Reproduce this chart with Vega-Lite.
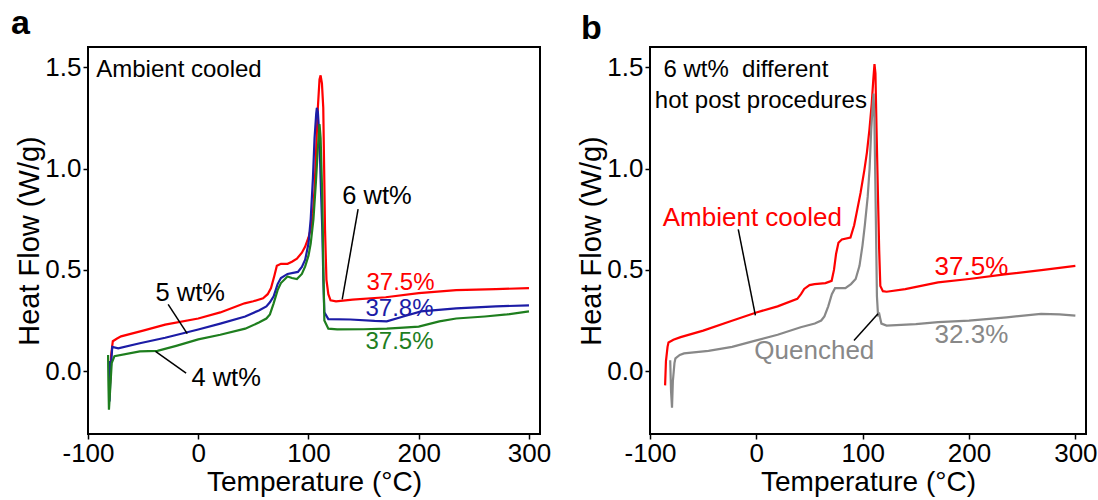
{
  "$schema": "https://vega.github.io/schema/vega-lite/v6.json",
  "background": "white",
  "padding": {"left": 10, "top": 6, "right": 5, "bottom": 0},
  "spacing": 110,
  "bounds": "flush",
  "config": {
    "view": {"stroke": "black", "strokeWidth": 2},
    "font": "Liberation Sans",
    "axis": {
      "grid": false, "domain": false, "tickColor": "black", "tickSize": 5, "tickWidth": 1.5,
      "labelColor": "black", "labelFontSize": 26, "labelFont": "Liberation Sans",
      "titleColor": "black", "titleFontSize": 29, "titleFontWeight": "normal", "titleFont": "Liberation Sans",
      "labelOverlap": false, "labelBound": false, "labelFlush": false
    },
    "title": {"font": "Liberation Sans", "fontWeight": "bold", "fontSize": 34, "color": "black", "anchor": "start", "frame": "group", "baseline": "alphabetic"}
  },
  "datasets": {
    "a": [
      {"T": -80.5, "H": -0.02, "s": "6 wt%"}, {"T": -80, "H": -0.06, "s": "6 wt%"}, {"T": -79, "H": 0.08, "s": "6 wt%"}, {"T": -77.5, "H": 0.148, "s": "6 wt%"}, {"T": -74, "H": 0.16, "s": "6 wt%"}, {"T": -70, "H": 0.172, "s": "6 wt%"}, {"T": -50, "H": 0.2, "s": "6 wt%"}, {"T": -30, "H": 0.23, "s": "6 wt%"}, {"T": 0, "H": 0.26, "s": "6 wt%"}, {"T": 20, "H": 0.29, "s": "6 wt%"}, {"T": 42, "H": 0.335, "s": "6 wt%"}, {"T": 50, "H": 0.345, "s": "6 wt%"}, {"T": 58.8, "H": 0.36, "s": "6 wt%"}, {"T": 63, "H": 0.38, "s": "6 wt%"}, {"T": 66, "H": 0.41, "s": "6 wt%"}, {"T": 69, "H": 0.47, "s": "6 wt%"}, {"T": 71.3, "H": 0.52, "s": "6 wt%"}, {"T": 75, "H": 0.53, "s": "6 wt%"}, {"T": 81, "H": 0.53, "s": "6 wt%"}, {"T": 85, "H": 0.54, "s": "6 wt%"}, {"T": 89.5, "H": 0.555, "s": "6 wt%"}, {"T": 94, "H": 0.585, "s": "6 wt%"}, {"T": 97, "H": 0.615, "s": "6 wt%"}, {"T": 100, "H": 0.66, "s": "6 wt%"}, {"T": 102, "H": 0.7, "s": "6 wt%"}, {"T": 104, "H": 0.78, "s": "6 wt%"}, {"T": 105.5, "H": 0.9, "s": "6 wt%"}, {"T": 107, "H": 1.1, "s": "6 wt%"}, {"T": 108.5, "H": 1.3, "s": "6 wt%"}, {"T": 110, "H": 1.44, "s": "6 wt%"}, {"T": 111, "H": 1.46, "s": "6 wt%"}, {"T": 112.2, "H": 1.42, "s": "6 wt%"}, {"T": 113.4, "H": 1.3, "s": "6 wt%"}, {"T": 114.2, "H": 1.0, "s": "6 wt%"}, {"T": 115, "H": 0.7, "s": "6 wt%"}, {"T": 116.3, "H": 0.45, "s": "6 wt%"}, {"T": 118, "H": 0.38, "s": "6 wt%"}, {"T": 120, "H": 0.35, "s": "6 wt%"}, {"T": 125, "H": 0.345, "s": "6 wt%"}, {"T": 140, "H": 0.353, "s": "6 wt%"}, {"T": 170, "H": 0.365, "s": "6 wt%"}, {"T": 200, "H": 0.385, "s": "6 wt%"}, {"T": 234, "H": 0.4, "s": "6 wt%"}, {"T": 270, "H": 0.405, "s": "6 wt%"}, {"T": 300, "H": 0.41, "s": "6 wt%"},
      {"T": -81, "H": 0.05, "s": "5 wt%"}, {"T": -80.5, "H": -0.15, "s": "5 wt%"}, {"T": -79.5, "H": 0.0, "s": "5 wt%"}, {"T": -78, "H": 0.12, "s": "5 wt%"}, {"T": -72.6, "H": 0.113, "s": "5 wt%"}, {"T": -53, "H": 0.138, "s": "5 wt%"}, {"T": -30, "H": 0.165, "s": "5 wt%"}, {"T": 0, "H": 0.206, "s": "5 wt%"}, {"T": 20, "H": 0.235, "s": "5 wt%"}, {"T": 42.6, "H": 0.27, "s": "5 wt%"}, {"T": 55, "H": 0.3, "s": "5 wt%"}, {"T": 61.8, "H": 0.32, "s": "5 wt%"}, {"T": 65, "H": 0.34, "s": "5 wt%"}, {"T": 68.4, "H": 0.37, "s": "5 wt%"}, {"T": 72, "H": 0.43, "s": "5 wt%"}, {"T": 75, "H": 0.46, "s": "5 wt%"}, {"T": 81, "H": 0.48, "s": "5 wt%"}, {"T": 90.4, "H": 0.49, "s": "5 wt%"}, {"T": 94, "H": 0.515, "s": "5 wt%"}, {"T": 97, "H": 0.55, "s": "5 wt%"}, {"T": 100, "H": 0.63, "s": "5 wt%"}, {"T": 102, "H": 0.75, "s": "5 wt%"}, {"T": 104, "H": 0.95, "s": "5 wt%"}, {"T": 105.5, "H": 1.15, "s": "5 wt%"}, {"T": 107, "H": 1.27, "s": "5 wt%"}, {"T": 107.6, "H": 1.3, "s": "5 wt%"}, {"T": 108.5, "H": 1.28, "s": "5 wt%"}, {"T": 110, "H": 1.15, "s": "5 wt%"}, {"T": 111, "H": 0.95, "s": "5 wt%"}, {"T": 112.5, "H": 0.7, "s": "5 wt%"}, {"T": 113.5, "H": 0.45, "s": "5 wt%"}, {"T": 114.4, "H": 0.29, "s": "5 wt%"}, {"T": 118, "H": 0.257, "s": "5 wt%"}, {"T": 138, "H": 0.255, "s": "5 wt%"}, {"T": 160, "H": 0.248, "s": "5 wt%"}, {"T": 171, "H": 0.246, "s": "5 wt%"}, {"T": 186, "H": 0.27, "s": "5 wt%"}, {"T": 202, "H": 0.295, "s": "5 wt%"}, {"T": 234, "H": 0.31, "s": "5 wt%"}, {"T": 270, "H": 0.32, "s": "5 wt%"}, {"T": 300, "H": 0.325, "s": "5 wt%"},
      {"T": -81.8, "H": 0.08, "s": "4 wt%"}, {"T": -81.5, "H": -0.05, "s": "4 wt%"}, {"T": -81, "H": -0.19, "s": "4 wt%"}, {"T": -80, "H": -0.1, "s": "4 wt%"}, {"T": -78.5, "H": 0.04, "s": "4 wt%"}, {"T": -76, "H": 0.074, "s": "4 wt%"}, {"T": -53, "H": 0.098, "s": "4 wt%"}, {"T": -37, "H": 0.1, "s": "4 wt%"}, {"T": -20, "H": 0.125, "s": "4 wt%"}, {"T": 0, "H": 0.157, "s": "4 wt%"}, {"T": 20, "H": 0.18, "s": "4 wt%"}, {"T": 42.6, "H": 0.21, "s": "4 wt%"}, {"T": 55, "H": 0.24, "s": "4 wt%"}, {"T": 61.8, "H": 0.26, "s": "4 wt%"}, {"T": 65, "H": 0.28, "s": "4 wt%"}, {"T": 68.4, "H": 0.335, "s": "4 wt%"}, {"T": 72, "H": 0.4, "s": "4 wt%"}, {"T": 75, "H": 0.435, "s": "4 wt%"}, {"T": 81, "H": 0.467, "s": "4 wt%"}, {"T": 85, "H": 0.46, "s": "4 wt%"}, {"T": 89.5, "H": 0.455, "s": "4 wt%"}, {"T": 94, "H": 0.48, "s": "4 wt%"}, {"T": 97, "H": 0.517, "s": "4 wt%"}, {"T": 100, "H": 0.57, "s": "4 wt%"}, {"T": 102, "H": 0.63, "s": "4 wt%"}, {"T": 104.5, "H": 0.75, "s": "4 wt%"}, {"T": 106.7, "H": 0.93, "s": "4 wt%"}, {"T": 108.5, "H": 1.1, "s": "4 wt%"}, {"T": 110, "H": 1.22, "s": "4 wt%"}, {"T": 111, "H": 1.15, "s": "4 wt%"}, {"T": 112.5, "H": 0.86, "s": "4 wt%"}, {"T": 113.5, "H": 0.5, "s": "4 wt%"}, {"T": 114.4, "H": 0.25, "s": "4 wt%"}, {"T": 118, "H": 0.21, "s": "4 wt%"}, {"T": 126, "H": 0.206, "s": "4 wt%"}, {"T": 150, "H": 0.207, "s": "4 wt%"}, {"T": 171, "H": 0.21, "s": "4 wt%"}, {"T": 186, "H": 0.215, "s": "4 wt%"}, {"T": 200, "H": 0.22, "s": "4 wt%"}, {"T": 218.7, "H": 0.246, "s": "4 wt%"}, {"T": 234, "H": 0.26, "s": "4 wt%"}, {"T": 260, "H": 0.27, "s": "4 wt%"}, {"T": 280, "H": 0.28, "s": "4 wt%"}, {"T": 300, "H": 0.295, "s": "4 wt%"}
    ],
    "b": [
      {"T": -85.8, "H": -0.07, "s": "Ambient cooled"}, {"T": -85, "H": 0.05, "s": "Ambient cooled"}, {"T": -83.5, "H": 0.12, "s": "Ambient cooled"}, {"T": -82.6, "H": 0.142, "s": "Ambient cooled"}, {"T": -78, "H": 0.155, "s": "Ambient cooled"}, {"T": -71.2, "H": 0.168, "s": "Ambient cooled"}, {"T": -50, "H": 0.2, "s": "Ambient cooled"}, {"T": -25, "H": 0.245, "s": "Ambient cooled"}, {"T": 0, "H": 0.29, "s": "Ambient cooled"}, {"T": 20, "H": 0.32, "s": "Ambient cooled"}, {"T": 38.5, "H": 0.357, "s": "Ambient cooled"}, {"T": 42, "H": 0.38, "s": "Ambient cooled"}, {"T": 45, "H": 0.406, "s": "Ambient cooled"}, {"T": 50, "H": 0.425, "s": "Ambient cooled"}, {"T": 54.7, "H": 0.43, "s": "Ambient cooled"}, {"T": 65, "H": 0.435, "s": "Ambient cooled"}, {"T": 70.8, "H": 0.446, "s": "Ambient cooled"}, {"T": 73, "H": 0.5, "s": "Ambient cooled"}, {"T": 75, "H": 0.58, "s": "Ambient cooled"}, {"T": 77.2, "H": 0.634, "s": "Ambient cooled"}, {"T": 80.4, "H": 0.65, "s": "Ambient cooled"}, {"T": 88.5, "H": 0.66, "s": "Ambient cooled"}, {"T": 92, "H": 0.72, "s": "Ambient cooled"}, {"T": 95, "H": 0.8, "s": "Ambient cooled"}, {"T": 98, "H": 0.88, "s": "Ambient cooled"}, {"T": 101.5, "H": 0.99, "s": "Ambient cooled"}, {"T": 104, "H": 1.08, "s": "Ambient cooled"}, {"T": 106.3, "H": 1.19, "s": "Ambient cooled"}, {"T": 108.5, "H": 1.32, "s": "Ambient cooled"}, {"T": 110, "H": 1.44, "s": "Ambient cooled"}, {"T": 111.1, "H": 1.516, "s": "Ambient cooled"}, {"T": 112, "H": 1.47, "s": "Ambient cooled"}, {"T": 113, "H": 1.2, "s": "Ambient cooled"}, {"T": 114.4, "H": 0.86, "s": "Ambient cooled"}, {"T": 115.5, "H": 0.6, "s": "Ambient cooled"}, {"T": 116.6, "H": 0.42, "s": "Ambient cooled"}, {"T": 119, "H": 0.395, "s": "Ambient cooled"}, {"T": 122.5, "H": 0.392, "s": "Ambient cooled"}, {"T": 140, "H": 0.405, "s": "Ambient cooled"}, {"T": 170.9, "H": 0.438, "s": "Ambient cooled"}, {"T": 200, "H": 0.455, "s": "Ambient cooled"}, {"T": 235.4, "H": 0.479, "s": "Ambient cooled"}, {"T": 270, "H": 0.5, "s": "Ambient cooled"}, {"T": 300, "H": 0.52, "s": "Ambient cooled"},
      {"T": -81, "H": 0.054, "s": "Quenched"}, {"T": -80.2, "H": -0.1, "s": "Quenched"}, {"T": -79.3, "H": -0.18, "s": "Quenched"}, {"T": -78.5, "H": -0.05, "s": "Quenched"}, {"T": -77, "H": 0.04, "s": "Quenched"}, {"T": -76.1, "H": 0.063, "s": "Quenched"}, {"T": -72, "H": 0.08, "s": "Quenched"}, {"T": -68, "H": 0.088, "s": "Quenched"}, {"T": -45, "H": 0.1, "s": "Quenched"}, {"T": -22.8, "H": 0.12, "s": "Quenched"}, {"T": 0, "H": 0.152, "s": "Quenched"}, {"T": 20, "H": 0.18, "s": "Quenched"}, {"T": 41.7, "H": 0.217, "s": "Quenched"}, {"T": 55, "H": 0.235, "s": "Quenched"}, {"T": 61, "H": 0.25, "s": "Quenched"}, {"T": 64, "H": 0.27, "s": "Quenched"}, {"T": 67.6, "H": 0.32, "s": "Quenched"}, {"T": 71, "H": 0.38, "s": "Quenched"}, {"T": 74, "H": 0.41, "s": "Quenched"}, {"T": 83.7, "H": 0.41, "s": "Quenched"}, {"T": 89, "H": 0.43, "s": "Quenched"}, {"T": 93.4, "H": 0.455, "s": "Quenched"}, {"T": 97, "H": 0.52, "s": "Quenched"}, {"T": 99.8, "H": 0.62, "s": "Quenched"}, {"T": 102, "H": 0.72, "s": "Quenched"}, {"T": 104.7, "H": 0.86, "s": "Quenched"}, {"T": 106.5, "H": 1.0, "s": "Quenched"}, {"T": 108, "H": 1.19, "s": "Quenched"}, {"T": 109.3, "H": 1.3, "s": "Quenched"}, {"T": 110.2, "H": 1.37, "s": "Quenched"}, {"T": 111, "H": 1.25, "s": "Quenched"}, {"T": 112.1, "H": 0.86, "s": "Quenched"}, {"T": 113.4, "H": 0.37, "s": "Quenched"}, {"T": 114.5, "H": 0.27, "s": "Quenched"}, {"T": 115.3, "H": 0.29, "s": "Quenched"}, {"T": 116.5, "H": 0.26, "s": "Quenched"}, {"T": 117.6, "H": 0.235, "s": "Quenched"}, {"T": 122.5, "H": 0.225, "s": "Quenched"}, {"T": 150, "H": 0.232, "s": "Quenched"}, {"T": 170.9, "H": 0.242, "s": "Quenched"}, {"T": 200, "H": 0.25, "s": "Quenched"}, {"T": 235.4, "H": 0.266, "s": "Quenched"}, {"T": 267.7, "H": 0.283, "s": "Quenched"}, {"T": 285, "H": 0.28, "s": "Quenched"}, {"T": 300, "H": 0.274, "s": "Quenched"}
    ],
    "notesA": [
      {"T": -92.5, "H": 1.45, "text": "Ambient cooled"},
      {"T": -38.8, "H": 0.344, "text": "5 wt%"},
      {"T": -6.2, "H": -0.074, "text": "4 wt%"},
      {"T": 130.6, "H": 0.826, "text": "6 wt%"}
    ],
    "pctA": [
      {"T": 152.6, "H": 0.403, "text": "37.5%", "s": "6 wt%"},
      {"T": 151.7, "H": 0.27, "text": "37.8%", "s": "5 wt%"},
      {"T": 151.7, "H": 0.108, "text": "37.5%", "s": "4 wt%"}
    ],
    "leadA": [
      {"T": -27.3, "H": 0.33, "T2": -10, "H2": 0.185},
      {"T": -11, "H": -0.01, "T2": -38.8, "H2": 0.098},
      {"T": 145, "H": 0.8, "T2": 130.6, "H2": 0.354}
    ],
    "notesB": [
      {"T": -87.4, "H": 1.45, "text": "6 wt%\u00a0 different"},
      {"T": -95.5, "H": 1.3, "text": "hot post procedures"}
    ],
    "pctB": [
      {"T": -88, "H": 0.716, "text": "Ambient cooled", "s": "Ambient cooled"},
      {"T": -1.9, "H": 0.059, "text": "Quenched", "s": "Quenched"},
      {"T": 167.6, "H": 0.474, "text": "37.5%", "s": "Ambient cooled"},
      {"T": 167.6, "H": 0.14, "text": "32.3%", "s": "Quenched"}
    ],
    "leadB": [
      {"T": -17, "H": 0.7, "T2": -0.9, "H2": 0.275},
      {"T": 91.8, "H": 0.152, "T2": 114.4, "H2": 0.283}
    ]
  },
  "hconcat": [
    {
      "width": 452, "height": 387,
      "title": {"text": "a", "dx": -77, "offset": 6},
      "layer": [
        {
          "data": {"name": "a"},
          "mark": {"type": "line", "strokeWidth": 2.2, "clip": true},
          "encoding": {
            "x": {"field": "T", "type": "quantitative", "scale": {"domain": [-100, 310], "nice": false, "zero": false},
                  "axis": {"values": [-100, 0, 100, 200, 300], "labelExpr": "replace(datum.label, '\u2212', '-')", "title": "Temperature (°C)", "titleFontSize": 28, "titlePadding": 2, "labelPadding": 1}},
            "y": {"field": "H", "type": "quantitative", "scale": {"domain": [-0.31, 1.6], "nice": false, "zero": false},
                  "axis": {"values": [0, 0.5, 1, 1.5], "format": ".1f", "title": "Heat Flow (W/g)", "titlePadding": 0, "labelPadding": 2}},
            "color": {"field": "s", "type": "nominal", "scale": {"domain": ["6 wt%", "5 wt%", "4 wt%", "Ambient cooled", "Quenched"], "range": ["#ff0000", "#1c1ca6", "#1e7e1e", "#ff0000", "#888888"]}, "legend": null},
            "order": {"field": "T", "type": "quantitative"}
          }
        },
        {
          "data": {"name": "leadA"},
          "mark": {"type": "rule", "color": "black", "strokeWidth": 1.5},
          "encoding": {
            "x": {"field": "T", "type": "quantitative"}, "y": {"field": "H", "type": "quantitative"},
            "x2": {"field": "T2"}, "y2": {"field": "H2"}
          }
        },
        {
          "data": {"name": "notesA"},
          "mark": {"type": "text", "align": "left", "baseline": "alphabetic", "font": "Liberation Sans", "fontSize": 24, "color": "black"},
          "encoding": {
            "x": {"field": "T", "type": "quantitative"}, "y": {"field": "H", "type": "quantitative"},
            "text": {"field": "text"},
            "size": {"condition": {"test": "datum.text != 'Ambient cooled'", "value": 25.5}, "value": 24}
          }
        },
        {
          "data": {"name": "pctA"},
          "mark": {"type": "text", "align": "left", "baseline": "alphabetic", "font": "Liberation Sans", "fontSize": 24},
          "encoding": {
            "x": {"field": "T", "type": "quantitative"}, "y": {"field": "H", "type": "quantitative"},
            "text": {"field": "text"},
            "color": {"field": "s", "type": "nominal", "legend": null}
          }
        }
      ]
    },
    {
      "width": 436, "height": 387,
      "title": {"text": "b", "dx": -69, "offset": 1},
      "layer": [
        {
          "data": {"name": "b"},
          "mark": {"type": "line", "strokeWidth": 2.2, "clip": true},
          "encoding": {
            "x": {"field": "T", "type": "quantitative", "scale": {"domain": [-100, 310], "nice": false, "zero": false},
                  "axis": {"values": [-100, 0, 100, 200, 300], "labelExpr": "replace(datum.label, '\u2212', '-')", "title": "Temperature (°C)", "titleFontSize": 28, "titlePadding": 2, "labelPadding": 1}},
            "y": {"field": "H", "type": "quantitative", "scale": {"domain": [-0.31, 1.6], "nice": false, "zero": false},
                  "axis": {"values": [0, 0.5, 1, 1.5], "format": ".1f", "title": "Heat Flow (W/g)", "titlePadding": 0, "labelPadding": 2}},
            "color": {"field": "s", "type": "nominal", "scale": {"domain": ["6 wt%", "5 wt%", "4 wt%", "Ambient cooled", "Quenched"], "range": ["#ff0000", "#1c1ca6", "#1e7e1e", "#ff0000", "#888888"]}, "legend": null},
            "order": {"field": "T", "type": "quantitative"}
          }
        },
        {
          "data": {"name": "leadB"},
          "mark": {"type": "rule", "color": "black", "strokeWidth": 1.5},
          "encoding": {
            "x": {"field": "T", "type": "quantitative"}, "y": {"field": "H", "type": "quantitative"},
            "x2": {"field": "T2"}, "y2": {"field": "H2"}
          }
        },
        {
          "data": {"name": "notesB"},
          "mark": {"type": "text", "align": "left", "baseline": "alphabetic", "font": "Liberation Sans", "fontSize": 24, "color": "black"},
          "encoding": {
            "x": {"field": "T", "type": "quantitative"}, "y": {"field": "H", "type": "quantitative"},
            "text": {"field": "text"}
          }
        },
        {
          "data": {"name": "pctB"},
          "mark": {"type": "text", "align": "left", "baseline": "alphabetic", "font": "Liberation Sans", "fontSize": 26},
          "encoding": {
            "x": {"field": "T", "type": "quantitative"}, "y": {"field": "H", "type": "quantitative"},
            "text": {"field": "text"},
            "color": {"field": "s", "type": "nominal", "legend": null}
          }
        }
      ]
    }
  ]
}
